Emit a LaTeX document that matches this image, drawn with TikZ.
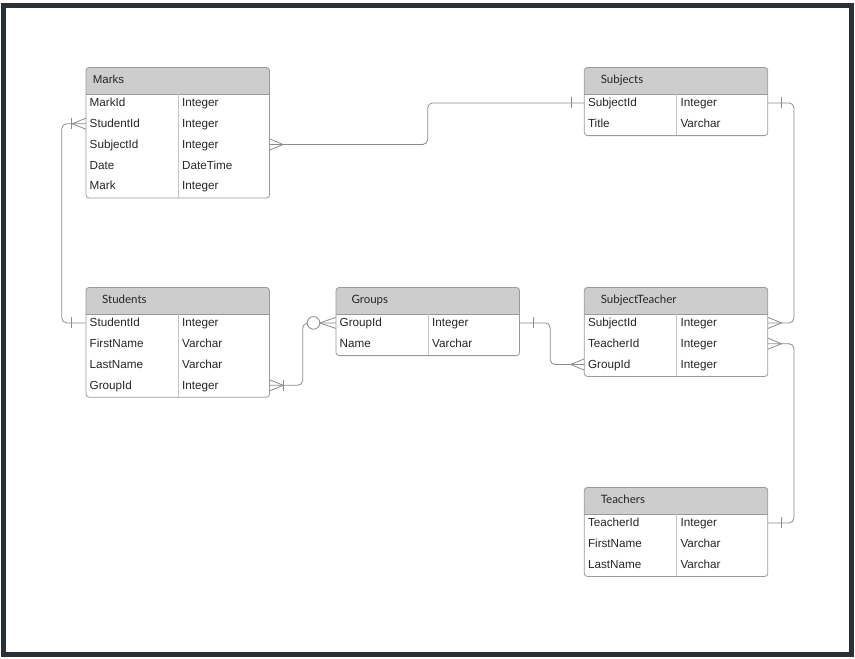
\documentclass[tikz,border=0pt]{standalone}
\usepackage{fontspec}
\setmainfont{Liberation Sans}
\newfontfamily\hdrfont{Lato}
\usetikzlibrary{calc}
\definecolor{linegray}{HTML}{8C8C8C}
\definecolor{boxgray}{HTML}{9A9A9A}
\definecolor{divgray}{HTML}{C4C4C4}
\definecolor{hdrfill}{HTML}{CDCDCD}
\definecolor{txt}{HTML}{262626}
\definecolor{framecol}{HTML}{2B2F36}
\tikzset{
  rowbox/.style={minimum width=183.5pt, minimum height=20.8pt, inner sep=0pt, draw=none},
  rowtxt/.style={anchor=west, inner sep=0pt, text=txt, font=\fontsize{11.7}{13}\selectfont, text height=8.5pt, text depth=2.3pt},
  hdrtxt/.style={anchor=west, inner sep=0pt, text=txt, text height=8.5pt, text depth=2.3pt},
  conn/.style={draw=linegray, line width=0.8pt},
  connr/.style={conn, rounded corners=5pt},
}
% #1 name, #2 x, #3 y, #4 nrows, #5 title, #6 title offset, #7 title font, #8 rows
\newcommand\ertable[8]{%
  \pgfmathsetmacro\tbot{#3+26.5+20.8*#4}
  \fill[hdrfill, rounded corners=3pt] (#2,#3) rectangle (#2+183.5,#3+26.5);
  \fill[hdrfill] (#2,#3+12) rectangle (#2+183.5,#3+26.5);
  \draw[boxgray, line width=0.8pt] (#2,#3+26.5) -- (#2+183.5,#3+26.5);
  \draw[divgray, line width=0.8pt] (#2+92,#3+26.5) -- (#2+92,\tbot);
  \draw[boxgray, line width=0.8pt, rounded corners=3pt] (#2,#3) rectangle (#2+183.5,\tbot);
  \node[hdrtxt, font=#7] (#1) at (#2+#6,#3+12.5) {#5};
  \foreach \a/\b [count=\i] in {#8} {
    \node[rowbox] (#1-\i) at ({#2+91.75},{#3+26.5+20.8*\i-11.9}) {};
    \node[rowtxt] (#1-\i-k) at ({#2+3.5},{#3+26.5+20.8*\i-11.2}) {\a};
    \node[rowtxt] (#1-\i-t) at ({#2+96},{#3+26.5+20.8*\i-11.2}) {\b};
  }
}
\newcommand\crowL[1]{\draw[conn] ([yshift=5.5pt]#1) -- ([xshift=-13.5pt]#1) -- ([yshift=-5.5pt]#1);}
\newcommand\crowR[1]{\draw[conn] ([yshift=5.5pt]#1) -- ([xshift=13.5pt]#1) -- ([yshift=-5.5pt]#1);}
\newcommand\barAt[2]{\draw[conn] ([xshift=#2,yshift=5.5pt]#1) -- ([xshift=#2,yshift=-5.5pt]#1);}
\begin{document}
\begin{tikzpicture}[x=1pt,y=-1pt]
\useasboundingbox (0,0) rectangle (855,659);
\fill[white] (0,0) rectangle (855,659);
\draw[framecol, line width=5pt] (3.5,5) rectangle (851.8,654.3);

\ertable{marks}{86}{67.5}{5}{Marks}{6.6}{\fontsize{11.5}{13}\selectfont}{MarkId/Integer, StudentId/Integer, SubjectId/Integer, Date/DateTime, Mark/Integer}
\ertable{subjects}{584.3}{67.5}{2}{Subjects}{16.3}{\hdrfont\fontsize{11.5}{13}\selectfont}{SubjectId/Integer, Title/Varchar}
\ertable{students}{86}{287.5}{4}{Students}{16}{\hdrfont\fontsize{11.5}{13}\selectfont}{StudentId/Integer, FirstName/Varchar, LastName/Varchar, GroupId/Integer}
\ertable{groups}{336}{287.5}{2}{Groups}{15.3}{\hdrfont\fontsize{11.5}{13}\selectfont}{GroupId/Integer, Name/Varchar}
\ertable{st}{584.3}{287.5}{3}{SubjectTeacher}{16.3}{\hdrfont\fontsize{11.5}{13}\selectfont}{SubjectId/Integer, TeacherId/Integer, GroupId/Integer}
\ertable{teachers}{584.3}{487.5}{3}{Teachers}{16.3}{\hdrfont\fontsize{11.5}{13}\selectfont}{TeacherId/Integer, FirstName/Varchar, LastName/Varchar}

% Marks.StudentId -- Students.StudentId
\draw[connr] (marks-2.west) -- ++(-24,0) |- (students-1.west);
\crowL{marks-2.west}
\barAt{marks-2.west}{-14pt}
\barAt{students-1.west}{-14pt}

% Marks.SubjectId -- Subjects.SubjectId
\draw[connr] (marks-3.east) -- ++(158,0) |- (subjects-1.west);
\crowR{marks-3.east}
\barAt{subjects-1.west}{-12.6pt}

% Students.GroupId -- Groups.GroupId
\draw[connr] (students-4.east) -- ++(33,0) |- (groups-1.west);
\crowR{students-4.east}
\barAt{students-4.east}{14pt}
\draw[conn] ([yshift=5.5pt]groups-1.west) -- ([xshift=-16pt]groups-1.west) -- ([yshift=-5.5pt]groups-1.west);
\draw[conn, fill=white] ([xshift=-22.3pt]groups-1.west) circle[radius=6.3pt];

% Groups.GroupId -- SubjectTeacher.GroupId
\draw[connr] (groups-1.east) -- ++(30.5,0) |- (st-3.west);
\barAt{groups-1.east}{13.3pt}
\crowL{st-3.west}

% Subjects.SubjectId -- SubjectTeacher.SubjectId
\draw[connr] (subjects-1.east) -- ++(26,0) |- (st-1.east);
\barAt{subjects-1.east}{13.6pt}
\crowR{st-1.east}

% SubjectTeacher.TeacherId -- Teachers.TeacherId
\draw[connr] (st-2.east) -- ++(26,0) |- (teachers-1.east);
\crowR{st-2.east}
\barAt{teachers-1.east}{13.6pt}
\end{tikzpicture}
\end{document}
